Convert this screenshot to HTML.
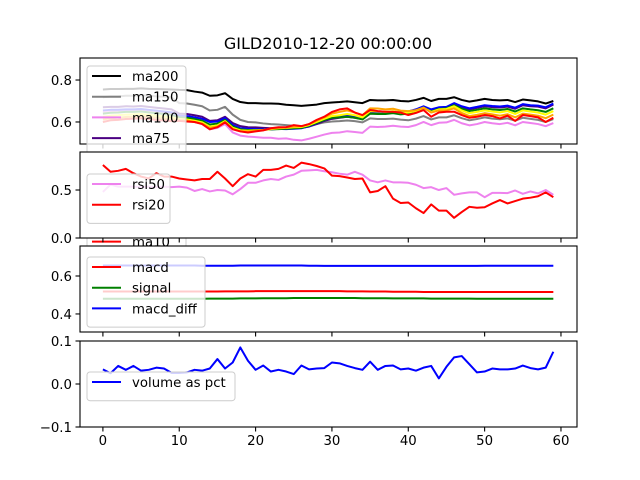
<!DOCTYPE html>
<html><head><meta charset="utf-8"><style>
html,body{margin:0;padding:0;background:#fff;}
svg{display:block;font-family:"DejaVu Sans","Liberation Sans",sans-serif;}
</style></head><body>
<svg id="chart" width="640" height="480" viewBox="0 0 640 480" xmlns="http://www.w3.org/2000/svg">
<rect width="640" height="480" fill="#fff"/>
<text x="328" y="49" text-anchor="middle" font-size="16" fill="#000">GILD2010-12-20 00:00:00</text>
</svg>
<script>
const xTicks=[0,10,20,30,40,50,60];
const ma200=[0.755,0.757,0.757,0.758,0.758,0.76,0.758,0.757,0.756,0.755,0.753,0.752,0.745,0.74,0.725,0.727,0.737,0.71,0.695,0.69,0.69,0.688,0.688,0.687,0.682,0.68,0.677,0.68,0.683,0.69,0.693,0.695,0.698,0.694,0.69,0.705,0.703,0.703,0.705,0.7,0.698,0.705,0.715,0.7,0.71,0.71,0.718,0.705,0.697,0.703,0.71,0.705,0.703,0.705,0.695,0.707,0.703,0.698,0.688,0.7];
const ma150=[0.718,0.722,0.722,0.725,0.725,0.728,0.725,0.722,0.72,0.716,0.69,0.688,0.682,0.675,0.655,0.658,0.672,0.635,0.61,0.6,0.598,0.593,0.59,0.588,0.585,0.582,0.578,0.583,0.59,0.598,0.602,0.604,0.607,0.604,0.598,0.617,0.614,0.614,0.616,0.611,0.608,0.616,0.628,0.612,0.622,0.622,0.632,0.618,0.608,0.614,0.622,0.616,0.613,0.617,0.606,0.62,0.615,0.61,0.6,0.614];
const ma100=[0.648,0.652,0.652,0.655,0.655,0.657,0.652,0.648,0.644,0.64,0.612,0.61,0.6,0.595,0.565,0.572,0.59,0.55,0.535,0.53,0.528,0.525,0.525,0.52,0.522,0.515,0.512,0.52,0.53,0.54,0.548,0.55,0.556,0.552,0.548,0.578,0.576,0.578,0.582,0.578,0.576,0.585,0.6,0.585,0.596,0.598,0.61,0.594,0.584,0.59,0.6,0.594,0.59,0.596,0.584,0.6,0.595,0.59,0.58,0.595];
const ma75=[0.67,0.672,0.672,0.675,0.674,0.676,0.672,0.668,0.664,0.66,0.64,0.638,0.632,0.625,0.605,0.608,0.625,0.595,0.58,0.575,0.574,0.572,0.57,0.572,0.57,0.57,0.572,0.578,0.59,0.605,0.615,0.62,0.625,0.62,0.614,0.64,0.64,0.64,0.645,0.64,0.645,0.655,0.67,0.655,0.665,0.668,0.684,0.67,0.66,0.667,0.675,0.671,0.669,0.673,0.663,0.68,0.675,0.673,0.665,0.683];
const ma50=[0.655,0.658,0.658,0.66,0.66,0.662,0.658,0.654,0.65,0.646,0.63,0.628,0.622,0.615,0.6,0.602,0.618,0.585,0.57,0.568,0.566,0.566,0.565,0.567,0.566,0.568,0.57,0.58,0.595,0.61,0.62,0.625,0.63,0.625,0.618,0.645,0.645,0.645,0.65,0.645,0.65,0.66,0.675,0.66,0.67,0.672,0.69,0.675,0.665,0.672,0.68,0.676,0.674,0.678,0.668,0.685,0.68,0.678,0.67,0.688];
const ma30=[0.64,0.644,0.645,0.648,0.648,0.65,0.646,0.642,0.638,0.634,0.622,0.62,0.614,0.606,0.588,0.592,0.61,0.578,0.565,0.562,0.562,0.563,0.565,0.566,0.568,0.57,0.572,0.582,0.596,0.61,0.62,0.622,0.625,0.62,0.612,0.64,0.638,0.638,0.642,0.636,0.64,0.65,0.668,0.65,0.662,0.665,0.68,0.663,0.652,0.658,0.665,0.66,0.657,0.662,0.65,0.665,0.66,0.656,0.648,0.665];
const ma20=[0.625,0.63,0.632,0.635,0.636,0.638,0.634,0.63,0.626,0.622,0.615,0.612,0.606,0.598,0.578,0.584,0.604,0.572,0.56,0.558,0.56,0.562,0.566,0.57,0.572,0.575,0.576,0.585,0.6,0.615,0.628,0.632,0.638,0.632,0.622,0.652,0.65,0.648,0.652,0.644,0.645,0.652,0.668,0.648,0.66,0.662,0.675,0.655,0.642,0.648,0.655,0.65,0.646,0.652,0.638,0.655,0.65,0.645,0.635,0.652];
const ma15=[0.612,0.618,0.62,0.624,0.625,0.628,0.624,0.62,0.616,0.612,0.61,0.607,0.6,0.592,0.572,0.578,0.6,0.567,0.556,0.555,0.558,0.562,0.568,0.572,0.574,0.578,0.58,0.59,0.606,0.622,0.64,0.648,0.655,0.645,0.632,0.665,0.664,0.66,0.663,0.654,0.652,0.656,0.668,0.645,0.655,0.655,0.665,0.643,0.628,0.634,0.642,0.636,0.63,0.637,0.622,0.64,0.635,0.63,0.618,0.635];
const ma10=[0.6,0.608,0.61,0.614,0.616,0.618,0.614,0.61,0.607,0.604,0.605,0.602,0.6,0.59,0.565,0.575,0.598,0.565,0.555,0.55,0.555,0.56,0.57,0.575,0.575,0.585,0.58,0.59,0.61,0.625,0.648,0.66,0.665,0.645,0.633,0.657,0.652,0.649,0.649,0.645,0.633,0.643,0.657,0.625,0.645,0.649,0.649,0.633,0.62,0.625,0.633,0.628,0.617,0.63,0.605,0.633,0.628,0.622,0.6,0.62];
const rsi50=[0.48,0.557,0.535,0.535,0.535,0.53,0.535,0.53,0.535,0.53,0.535,0.525,0.49,0.51,0.485,0.5,0.495,0.455,0.51,0.575,0.575,0.6,0.615,0.605,0.64,0.66,0.7,0.705,0.71,0.695,0.685,0.67,0.66,0.69,0.66,0.6,0.58,0.6,0.58,0.58,0.575,0.555,0.52,0.53,0.5,0.52,0.45,0.465,0.475,0.475,0.425,0.47,0.47,0.468,0.495,0.46,0.485,0.465,0.5,0.45];
const rsi20=[0.76,0.69,0.7,0.72,0.675,0.64,0.62,0.675,0.64,0.64,0.62,0.61,0.6,0.615,0.615,0.69,0.62,0.54,0.62,0.665,0.64,0.71,0.71,0.72,0.755,0.73,0.785,0.77,0.75,0.725,0.65,0.645,0.63,0.615,0.62,0.475,0.49,0.54,0.41,0.365,0.37,0.31,0.26,0.35,0.285,0.285,0.21,0.27,0.325,0.315,0.32,0.36,0.395,0.36,0.385,0.41,0.42,0.435,0.475,0.425];
const macd=[0.518,0.518,0.518,0.518,0.518,0.518,0.518,0.518,0.518,0.518,0.518,0.518,0.518,0.518,0.518,0.518,0.519,0.519,0.519,0.519,0.52,0.52,0.52,0.52,0.52,0.52,0.52,0.52,0.52,0.52,0.52,0.52,0.519,0.519,0.519,0.518,0.518,0.518,0.517,0.517,0.517,0.517,0.516,0.516,0.516,0.516,0.516,0.516,0.516,0.516,0.516,0.516,0.516,0.516,0.516,0.516,0.516,0.516,0.516,0.516];
const signal=[0.48,0.48,0.48,0.48,0.48,0.48,0.48,0.48,0.48,0.48,0.48,0.48,0.48,0.48,0.481,0.481,0.481,0.481,0.482,0.482,0.482,0.483,0.483,0.483,0.483,0.484,0.484,0.484,0.484,0.484,0.484,0.484,0.484,0.484,0.483,0.483,0.483,0.483,0.482,0.482,0.482,0.482,0.482,0.481,0.481,0.481,0.481,0.481,0.481,0.48,0.48,0.48,0.48,0.48,0.48,0.48,0.48,0.48,0.48,0.48];
const macdDiff=[0.655,0.655,0.655,0.655,0.655,0.655,0.655,0.655,0.655,0.655,0.655,0.655,0.655,0.654,0.654,0.654,0.654,0.654,0.655,0.655,0.655,0.655,0.655,0.655,0.655,0.655,0.655,0.654,0.654,0.653,0.653,0.653,0.653,0.653,0.653,0.653,0.653,0.653,0.653,0.653,0.653,0.653,0.653,0.653,0.653,0.653,0.653,0.653,0.653,0.653,0.654,0.654,0.654,0.654,0.654,0.654,0.654,0.654,0.654,0.654];
const volPct=[0.034,0.025,0.042,0.033,0.042,0.031,0.033,0.038,0.036,0.026,0.026,0.027,0.033,0.031,0.036,0.058,0.036,0.05,0.085,0.054,0.033,0.043,0.029,0.033,0.029,0.023,0.043,0.034,0.036,0.037,0.05,0.048,0.042,0.037,0.033,0.052,0.033,0.042,0.043,0.034,0.036,0.031,0.038,0.042,0.013,0.04,0.062,0.065,0.046,0.027,0.029,0.036,0.034,0.034,0.036,0.043,0.037,0.034,0.038,0.075];
const p1Ticks=[0.6,0.8], p2Ticks=[0.0,0.5], p3Ticks=[0.4,0.6], p4Ticks=[-0.1,0.0,0.1];

const NS='http://www.w3.org/2000/svg';
const svg=document.getElementById('chart');
const X0=80,W=497,H=86;
const xmin=-3.0,xmax=62.1;
function xs(v){return X0+(v-xmin)/(xmax-xmin)*W;}
function mk(tag,attrs,parent){const e=document.createElementNS(NS,tag);for(const k in attrs)e.setAttribute(k,attrs[k]);(parent||svg).appendChild(e);return e;}

function panel(name,top,ymin,ymax,yTicks,fmt,series,legend,showXLabels){
  const g=mk('g',{});
  
  
  const ys=v=>top+H-(v-ymin)/(ymax-ymin)*H;
  const bg=mk('rect',{x:X0,y:top,width:W,height:H,fill:'#fff'},g);
  
  
  const cid='clip-'+name;
  const cp=mk('clipPath',{id:cid},g);mk('rect',{x:X0,y:top,width:W,height:H},cp);
  const lg=mk('g',{'clip-path':'url(#'+cid+')'},g);
  series.forEach(s=>{
    const pts=s.data.map((v,i)=>xs(i).toFixed(2)+','+ys(v).toFixed(2)).join(' ');
    const pl=mk('polyline',{points:pts,fill:'none',stroke:s.color,'stroke-width':2,'stroke-linejoin':'round'},lg);
    
    
  });
  const fr=mk('rect',{x:X0,y:top,width:W,height:H,fill:'none',stroke:'#000','stroke-width':1.1},g);
  
  
  xTicks.forEach(t=>{
    const x=xs(t);
    mk('line',{x1:x,x2:x,y1:top+H,y2:top+H+4.5,stroke:'#000','stroke-width':1.1},g);
    if(showXLabels){
      const tx=mk('text',{x:x,y:top+H+18,'text-anchor':'middle','font-size':13.3,fill:'#000'},g);
      tx.textContent=String(t);
      
      
    }
  });
  yTicks.forEach(t=>{
    const y=ys(t);
    mk('line',{x1:X0-4.5,x2:X0,y1:y,y2:y,stroke:'#000','stroke-width':1.1},g);
    const tx=mk('text',{x:X0-8,y:y+4.8,'text-anchor':'end','font-size':13.3,fill:'#000'},g);
    tx.textContent=fmt(t);
    
    
  });
  const lgG=mk('g',{},g);
  
  
  const bh=legend.items.length*20.7+8;
  mk('rect',{x:87,y:legend.top,width:legend.w,height:bh,rx:3,fill:'#fff','fill-opacity':0.8,stroke:'#cccccc','stroke-width':1},lgG);
  legend.items.forEach((it,k)=>{
    const y=legend.top+10+k*20.7;
    const ln=mk('line',{x1:92,x2:121,y1:y,y2:y,stroke:it.color,'stroke-width':2},lgG);
    
    
    const tx=mk('text',{x:132,y:y+5,'font-size':13.3,fill:'#000'},lgG);
    tx.textContent=it.label;
    
    
  });
}

const maSeries=[
 {label:'ma200',color:'#000000',data:ma200},
 {label:'ma150',color:'#808080',data:ma150},
 {label:'ma100',color:'#ee82ee',data:ma100},
 {label:'ma75',color:'#4b0082',data:ma75},
 {label:'ma50',color:'#0000ff',data:ma50},
 {label:'ma30',color:'#008000',data:ma30},
 {label:'ma20',color:'#ffff00',data:ma20},
 {label:'ma15',color:'#ffa500',data:ma15},
 {label:'ma10',color:'#ff0000',data:ma10}];
panel('ma-panel',58,0.495,0.905,p1Ticks,v=>v.toFixed(1),maSeries,{top:66,w:99,items:maSeries},false);
const rsiSeries=[{label:'rsi50',color:'#ee82ee',data:rsi50},{label:'rsi20',color:'#ff0000',data:rsi20}];
panel('rsi-panel',152,0.0,0.896,p2Ticks,v=>v.toFixed(1),rsiSeries,{top:174,w:83,items:rsiSeries},false);
const macdSeries=[{label:'macd',color:'#ff0000',data:macd},{label:'signal',color:'#008000',data:signal},{label:'macd_diff',color:'#0000ff',data:macdDiff}];
panel('macd-panel',246,0.305,0.758,p3Ticks,v=>v.toFixed(1),macdSeries,{top:257,w:118,items:macdSeries},false);
const volSeries=[{label:'volume as pct',color:'#0000ff',data:volPct}];
panel('volume-panel',341,-0.1,0.1,p4Ticks,v=>(v<0?'\u22120.1':v.toFixed(1)),volSeries,{top:372,w:148,items:volSeries},true);
</script>
</body></html>
